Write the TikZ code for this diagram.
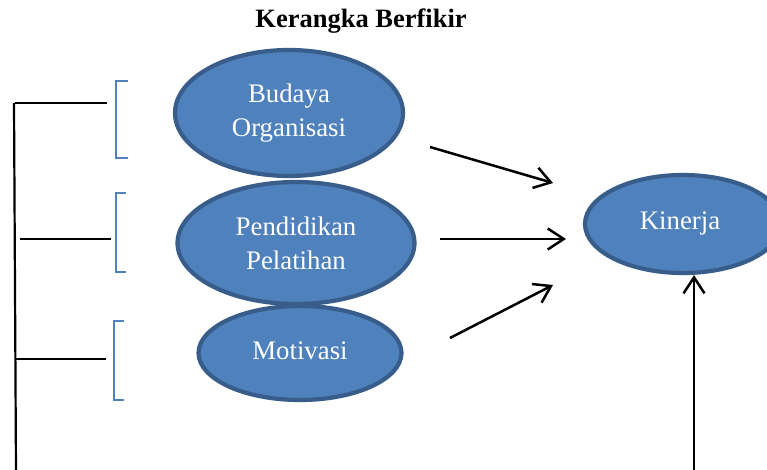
\documentclass[tikz,border=0pt]{standalone}
\usepackage{fontspec}
\setmainfont{Liberation Serif}
\usetikzlibrary{shapes.geometric,arrows.meta}
\definecolor{fillblue}{HTML}{4F81BD}
\definecolor{edgeblue}{HTML}{385D8A}
\begin{document}
\begin{tikzpicture}[x=1pt,y=-1pt,
  bubble/.style={ellipse,draw=edgeblue,fill=fillblue,line width=4.2pt,text=white,
    align=center,inner sep=0pt,font=\fontsize{26.8}{34}\selectfont},
  arr/.style={line width=2.5pt,-{Straight Barb[length=16pt,width=21pt,line width=2.5pt]}},
  blk/.style={line width=2.2pt},
  brk/.style={draw=fillblue,line width=1.6pt}]
\clip (0,0) rectangle (767,470);
\fill[white] (0,0) rectangle (767,470);
\node[font=\bfseries\fontsize{26.5}{30}\selectfont] (title) at (361,21) {Kerangka Berfikir};
\node[bubble,minimum width=228pt,minimum height=126pt] (budaya) at (289,113) {\raisebox{-3pt}{\begin{tabular}{@{}c@{}}Budaya\\Organisasi\end{tabular}}};
\node[bubble,minimum width=237pt,minimum height=122pt] (pend) at (296,243) {Pendidikan\\Pelatihan};
\node[bubble,minimum width=203pt,minimum height=94pt] (motiv) at (300,353) {\raisebox{4pt}{Motivasi}};
\node[bubble,minimum width=196pt,minimum height=98pt] (kinerja) at (683,224) {\hspace*{-6pt}\raisebox{6pt}{Kinerja}};
% arrows
\coordinate (a1s) at (430,147); \coordinate (a1e) at (553,183);
\coordinate (a2s) at (440,239); \coordinate (a2e) at (566,239);
\coordinate (a3s) at (450,338); \coordinate (a3e) at (553,285);
\coordinate (a4s) at (694,472);
\draw[arr] (a1s) -- (a1e);
\draw[arr] (a2s) -- (a2e);
\draw[arr] (a3s) -- (a3e);
\draw[arr] (a4s) -- (kinerja.south -| a4s);
% left lines
\coordinate (vt) at (14,103); \coordinate (vb) at (16,472);
\draw[blk] (vt) -- (vb);
\coordinate (h1a) at (15,103); \coordinate (h1b) at (107,103);
\coordinate (h2a) at (20,239); \coordinate (h2b) at (111,239);
\coordinate (h3a) at (15,359); \coordinate (h3b) at (106,359);
\draw[blk] (h1a) -- (h1b);
\draw[blk] (h2a) -- (h2b);
\draw[blk] (h3a) -- (h3b);
% brackets
\draw[brk] (128,81) -- (116,81) -- (116,158) -- (128,158);
\draw[brk] (126,193) -- (116,193) -- (116,272) -- (126,272);
\draw[brk] (124,321) -- (114,321) -- (114,400) -- (124,400);
\end{tikzpicture}
\end{document}
